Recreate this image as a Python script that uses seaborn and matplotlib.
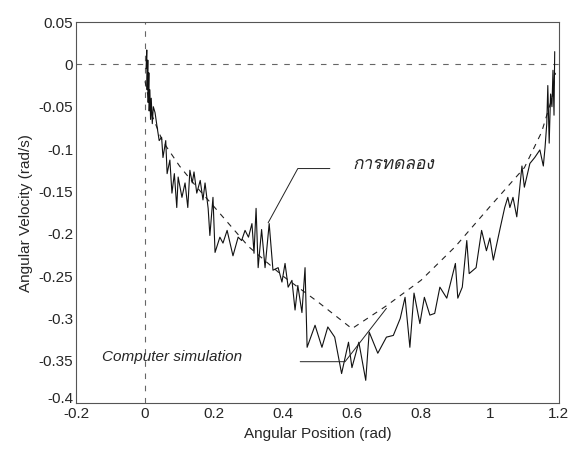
import matplotlib
matplotlib.use("Agg")
import matplotlib.pyplot as plt
import matplotlib.transforms as mtransforms
import numpy as np
import pandas as pd
import seaborn as sns
from matplotlib import font_manager

# experiment (noisy) trace
exp_x = [0.003, 0.005, 0.006, 0.008, 0.009, 0.011, 0.012, 0.014, 0.016, 0.018, 0.021, 0.024,
         0.029, 0.035, 0.041, 0.048, 0.052, 0.060, 0.064, 0.072, 0.078, 0.085, 0.092, 0.096,
         0.107, 0.116, 0.124, 0.130, 0.137, 0.142, 0.150, 0.160, 0.168, 0.174, 0.183, 0.188,
         0.197, 0.203, 0.217, 0.226, 0.238, 0.255, 0.270, 0.280, 0.290, 0.300, 0.310, 0.316,
         0.322, 0.328, 0.338, 0.348, 0.360, 0.371, 0.386, 0.397, 0.406, 0.415, 0.426, 0.435,
         0.443, 0.455, 0.464, 0.470, 0.493, 0.513, 0.530, 0.550, 0.570, 0.590, 0.600, 0.620,
         0.640, 0.650, 0.675, 0.700, 0.720, 0.740, 0.754, 0.768, 0.780, 0.797, 0.810, 0.826,
         0.840, 0.855, 0.875, 0.900, 0.907, 0.920, 0.933, 0.940, 0.960, 0.976, 0.990, 1.000,
         1.010, 1.030, 1.043, 1.052, 1.058, 1.067, 1.078, 1.093, 1.100, 1.116, 1.130, 1.145,
         1.155, 1.160, 1.165, 1.168, 1.172, 1.176, 1.180, 1.183, 1.186, 1.188]
exp_y = [-0.005, 0.017, -0.030, 0.005, -0.045, -0.010, -0.055, -0.030, -0.065, -0.040, -0.070, -0.050,
         -0.057, -0.074, -0.090, -0.086, -0.110, -0.090, -0.129, -0.113, -0.152, -0.129, -0.169, -0.133,
         -0.157, -0.140, -0.169, -0.125, -0.140, -0.127, -0.152, -0.137, -0.160, -0.140, -0.170, -0.202,
         -0.157, -0.222, -0.204, -0.211, -0.196, -0.226, -0.204, -0.208, -0.196, -0.204, -0.188, -0.223,
         -0.170, -0.240, -0.195, -0.240, -0.188, -0.243, -0.240, -0.257, -0.235, -0.263, -0.255, -0.290,
         -0.261, -0.293, -0.240, -0.334, -0.308, -0.334, -0.310, -0.322, -0.365, -0.328, -0.358, -0.328,
         -0.373, -0.316, -0.341, -0.322, -0.320, -0.300, -0.275, -0.334, -0.270, -0.306, -0.275, -0.296,
         -0.294, -0.263, -0.276, -0.235, -0.276, -0.263, -0.208, -0.247, -0.240, -0.196, -0.220, -0.205,
         -0.231, -0.193, -0.169, -0.157, -0.169, -0.157, -0.180, -0.120, -0.145, -0.117, -0.110, -0.101,
         -0.120, -0.098, -0.070, -0.025, -0.093, -0.035, -0.050, -0.007, -0.060, 0.015]

# computer simulation
sim_x = [0.0, 0.02, 0.05, 0.1, 0.15, 0.2, 0.3, 0.4, 0.5, 0.6, 0.7, 0.8, 0.9, 1.0, 1.1, 1.15, 1.18, 1.19]
sim_y = [-0.02, -0.06, -0.09, -0.12, -0.145, -0.168, -0.215, -0.25, -0.28, -0.312, -0.285, -0.255,
         -0.215, -0.168, -0.122, -0.08, -0.04, -0.01]

xticks = [-0.2, 0, 0.2, 0.4, 0.6, 0.8, 1, 1.2]
xticklabels = ["-0.2", "0", "0.2", "0.4", "0.6", "0.8", "1", "1.2"]
yticks = [-0.4, -0.35, -0.3, -0.25, -0.2, -0.15, -0.1, -0.05, 0, 0.05]
yticklabels = ["-0.4", "-0.35", "-0.3", "-0.25", "-0.2", "-0.15", "-0.1", "-0.05", "0", "0.05"]

sns.set_style("white")
plt.rcParams["font.family"] = ["Liberation Sans", "DejaVu Sans"]
plt.rcParams["xtick.direction"] = "in"
plt.rcParams["ytick.direction"] = "in"

# find any installed font with Thai glyphs
thai_fonts = []
for f in font_manager.fontManager.ttflist:
    if "thai" in f.name.lower() or f.name in ("Loma", "Garuda", "Norasi", "Kinnari", "Waree", "Sawasdee", "Umpush"):
        thai_fonts.append(f.name)
thai_family = list(dict.fromkeys(thai_fonts)) + ["Liberation Sans", "DejaVu Sans"]

exp_df = pd.DataFrame({"x": exp_x, "y": exp_y})
sim_df = pd.DataFrame({"x": sim_x, "y": sim_y})

fig = plt.figure(figsize=(5.72, 4.49), dpi=100)
ax = fig.add_axes([0.133, 0.102, 0.844, 0.849])

ax.axhline(0, color="#666666", lw=0.8, ls=(0, (5, 6)))
ax.axvline(0, color="#666666", lw=0.8, ls=(0, (5, 6)))

sns.lineplot(data=sim_df, x="x", y="y", ax=ax, sort=False, estimator=None,
             color="#222222", lw=0.8, dashes=False, linestyle=(0, (5, 5)))
sns.lineplot(data=exp_df, x="x", y="y", ax=ax, sort=False, estimator=None,
             color="#111111", lw=0.8)

# annotations
ax.plot([0.357, 0.443, 0.536], [-0.187, -0.123, -0.123], color="#222222", lw=0.7)
ax.text(0.60, -0.119, "การทดลอง", fontsize=12.5, style="italic", va="center", ha="left",
        family=thai_family)
ax.plot([0.45, 0.58, 0.70], [-0.351, -0.351, -0.288], color="#222222", lw=0.7)
ax.text(-0.125, -0.346, "Computer simulation", fontsize=11, style="italic", va="center", ha="left")

ax.set_xlim(-0.2, 1.2)
ax.set_ylim(-0.4, 0.05)
ax.set_xticks(xticks)
ax.set_xticklabels(xticklabels, fontsize=11)
ax.set_yticks(yticks)
ax.set_yticklabels(yticklabels, fontsize=11)
ax.tick_params(length=4, width=0.7, color="#444444")
ax.tick_params(axis="x", pad=3)
ax.tick_params(axis="y", pad=2)
for s in ax.spines.values():
    s.set_color("#555555")
    s.set_linewidth(0.8)
ax.set_xlabel("Angular Position (rad)", fontsize=11)
ax.set_ylabel("Angular Velocity (rad/s)", fontsize=11)

# lift the bottom y label a bit so it clears the x labels (as in the original)
lab = ax.get_yticklabels()[0]
lab.set_transform(lab.get_transform() + mtransforms.ScaledTranslation(0, 4 / 72, fig.dpi_scale_trans))

fig.savefig("out.png", dpi=100)
